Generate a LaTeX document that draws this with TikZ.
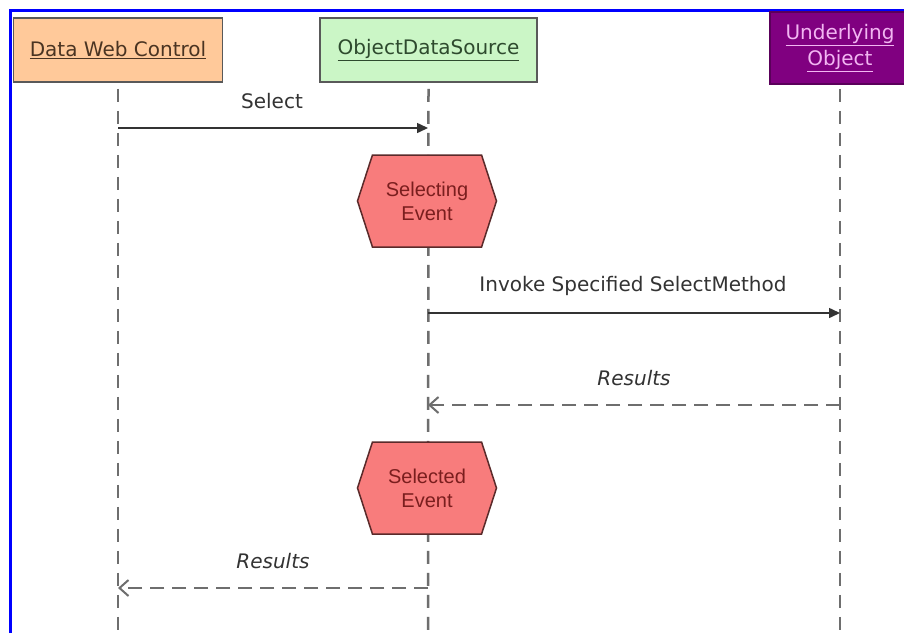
\documentclass[tikz,border=0pt]{standalone}
\usepackage{fontspec}
\setmainfont{DejaVu Sans}
\newfontfamily\arialf{Liberation Sans}
\usetikzlibrary{arrows.meta,shapes.symbols}
\definecolor{peach}{HTML}{FFC99A}
\definecolor{peachtxt}{HTML}{4A3422}
\definecolor{mint}{HTML}{CBF6C6}
\definecolor{minttxt}{HTML}{2E4A2E}
\definecolor{purp}{HTML}{800080}
\definecolor{purptxt}{HTML}{F2B6F2}
\definecolor{hexfill}{HTML}{F87C7C}
\definecolor{hextxt}{HTML}{7A1E1E}
\definecolor{hexline}{HTML}{5A2A2A}
\definecolor{lifegray}{HTML}{6E6E6E}
\definecolor{msggray}{HTML}{333333}
\tikzset{
  lbl/.style={font=\fontsize{20}{24}\selectfont, inner sep=0pt},
  actor/.style={draw=#1, line width=1.5pt, inner sep=0pt, minimum height=64pt},
  hexev/.style={shape=signal, signal to=west and east, signal pointer angle=144,
    draw=hexline, line width=1.5pt, fill=hexfill, minimum width=139pt, minimum height=92pt,
    inner sep=0pt, align=center, text=hextxt, font=\arialf\fontsize{20}{24}\selectfont},
  lifeline/.style={draw=lifegray, line width=2.5pt, dash pattern=on 13pt off 9pt},
  callmsg/.style={draw=msggray, line width=1.5pt, -{Triangle[length=11pt,width=10pt]}},
  retmsg/.style={draw=lifegray, line width=2pt, dash pattern=on 14pt off 8pt,
    -{Straight Barb[length=9pt,width=16pt,line width=2pt]}},
  msglbl/.style={lbl, text=msggray},
  retlbl/.style={lbl, text=msggray, font=\fontsize{20}{24}\selectfont\itshape},
}
\begin{document}
\begin{tikzpicture}[x=1pt,y=-1pt]
\useasboundingbox (0,0) rectangle (904,633);
\clip (0,0) rectangle (904,633);
\fill[white] (0,0) rectangle (904,633);

% blue frame
\draw[blue, line width=3pt] (10.5,633) -- (10.5,10) -- (904,10);

% actors
\node[actor=black!65, fill=peach, minimum width=209pt, text=peachtxt, lbl] (dwc) at (118,50) {\underline{Data Web Control}};
\node[actor=black!65, fill=mint, minimum width=217pt, text=minttxt, lbl] (ods) at (428.5,50) {\underline{ObjectDataSource}};
\node[actor=purp!70!black, fill=purp, minimum width=140pt, minimum height=72pt, align=center, text=purptxt, lbl] (uo) at (840,48)
  {\underline{Underlying}\\[2pt]\underline{Object}};

% lifeline ends
\coordinate (dwcEnd) at (118,640);
\coordinate (odsEnd) at (428,640);
\coordinate (uoEnd) at (840,640);

\draw[lifeline] ([yshift=-6pt]dwc.south) -- (dwcEnd);
\draw[lifeline] ([yshift=-6pt]ods.south) -- (odsEnd);
\draw[lifeline] ([yshift=-4pt]uo.south) -- (uoEnd);

% events
\node[hexev] (selecting) at (427,201) {Selecting\\Event};
\node[hexev] (selected) at (427,488) {Selected\\Event};

% message points
\coordinate (m1s) at (118,128);
\coordinate (m1e) at (428,128);
\coordinate (m2s) at (428,313);
\coordinate (m2e) at (840,313);
\coordinate (r1s) at (840,405);
\coordinate (r1e) at (428,405);
\coordinate (r2s) at (428,588);
\coordinate (r2e) at (118,588);

\draw[callmsg] (m1s) -- (m1e);
\draw[callmsg] (m2s) -- (m2e);
\draw[retmsg] (r1s) -- (r1e);
\draw[retmsg] (r2s) -- (r2e);

\node[msglbl] (lselect) at (272,101) {Select};
\node[msglbl] (linvoke) at (633,286) {Invoke Specified SelectMethod};
\node[retlbl] (lres1) at (634,378) {Results};
\node[retlbl] (lres2) at (273,561) {Results};
\end{tikzpicture}
\end{document}
